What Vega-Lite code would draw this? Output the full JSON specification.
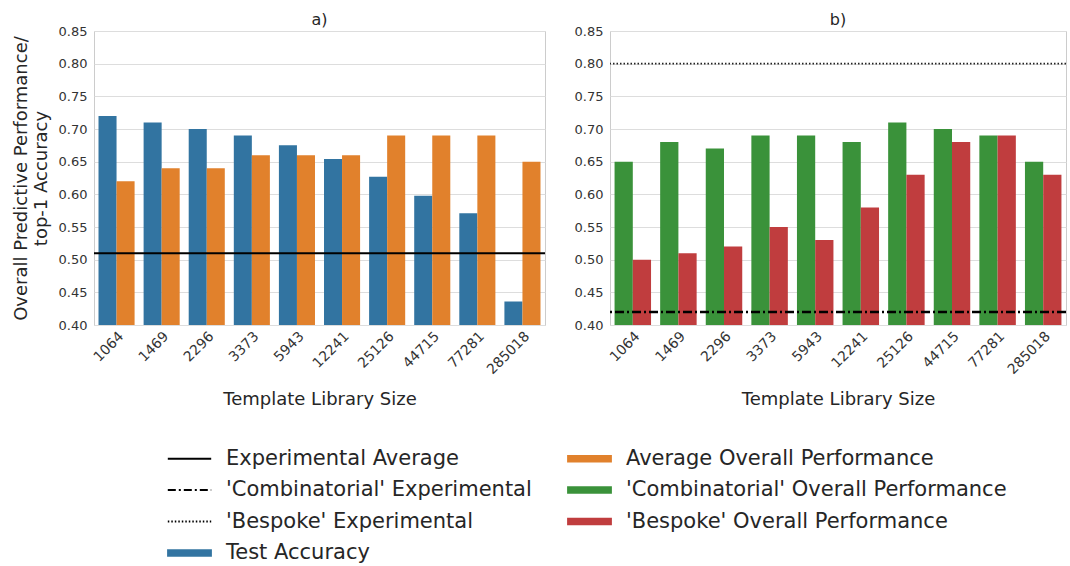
{
  "$schema": "https://vega.github.io/schema/vega-lite/v6.json",
  "padding": {"left": 11, "top": 11, "right": 2, "bottom": 2},
  "background": "white",
  "config": {
    "font": "DejaVu Sans",
    "view": {"stroke": "#cccccc", "strokeWidth": 1},
    "axis": {
      "labelFont": "DejaVu Sans", "titleFont": "DejaVu Sans",
      "labelColor": "#333333", "titleColor": "#262626",
      "gridColor": "#dddddd", "gridWidth": 1,
      "domain": false, "ticks": false,
      "labelFontSize": 13, "titleFontSize": 18, "titleFontWeight": "normal"
    },
    "title": {"fontSize": 16, "fontWeight": "normal", "font": "DejaVu Sans", "color": "#262626", "offset": -3}
  },
  "datasets": {
    "barsA": [
      {"size": "1064", "series": "Test Accuracy", "value": 0.72},
      {"size": "1064", "series": "Average Overall Performance", "value": 0.62},
      {"size": "1469", "series": "Test Accuracy", "value": 0.71},
      {"size": "1469", "series": "Average Overall Performance", "value": 0.64},
      {"size": "2296", "series": "Test Accuracy", "value": 0.70},
      {"size": "2296", "series": "Average Overall Performance", "value": 0.64},
      {"size": "3373", "series": "Test Accuracy", "value": 0.69},
      {"size": "3373", "series": "Average Overall Performance", "value": 0.66},
      {"size": "5943", "series": "Test Accuracy", "value": 0.675},
      {"size": "5943", "series": "Average Overall Performance", "value": 0.66},
      {"size": "12241", "series": "Test Accuracy", "value": 0.654},
      {"size": "12241", "series": "Average Overall Performance", "value": 0.66},
      {"size": "25126", "series": "Test Accuracy", "value": 0.627},
      {"size": "25126", "series": "Average Overall Performance", "value": 0.69},
      {"size": "44715", "series": "Test Accuracy", "value": 0.598},
      {"size": "44715", "series": "Average Overall Performance", "value": 0.69},
      {"size": "77281", "series": "Test Accuracy", "value": 0.571},
      {"size": "77281", "series": "Average Overall Performance", "value": 0.69},
      {"size": "285018", "series": "Test Accuracy", "value": 0.436},
      {"size": "285018", "series": "Average Overall Performance", "value": 0.65}
    ],
    "barsB": [
      {"size": "1064", "series": "'Combinatorial' Overall Performance", "value": 0.65},
      {"size": "1064", "series": "'Bespoke' Overall Performance", "value": 0.50},
      {"size": "1469", "series": "'Combinatorial' Overall Performance", "value": 0.68},
      {"size": "1469", "series": "'Bespoke' Overall Performance", "value": 0.51},
      {"size": "2296", "series": "'Combinatorial' Overall Performance", "value": 0.67},
      {"size": "2296", "series": "'Bespoke' Overall Performance", "value": 0.52},
      {"size": "3373", "series": "'Combinatorial' Overall Performance", "value": 0.69},
      {"size": "3373", "series": "'Bespoke' Overall Performance", "value": 0.55},
      {"size": "5943", "series": "'Combinatorial' Overall Performance", "value": 0.69},
      {"size": "5943", "series": "'Bespoke' Overall Performance", "value": 0.53},
      {"size": "12241", "series": "'Combinatorial' Overall Performance", "value": 0.68},
      {"size": "12241", "series": "'Bespoke' Overall Performance", "value": 0.58},
      {"size": "25126", "series": "'Combinatorial' Overall Performance", "value": 0.71},
      {"size": "25126", "series": "'Bespoke' Overall Performance", "value": 0.63},
      {"size": "44715", "series": "'Combinatorial' Overall Performance", "value": 0.70},
      {"size": "44715", "series": "'Bespoke' Overall Performance", "value": 0.68},
      {"size": "77281", "series": "'Combinatorial' Overall Performance", "value": 0.69},
      {"size": "77281", "series": "'Bespoke' Overall Performance", "value": 0.69},
      {"size": "285018", "series": "'Combinatorial' Overall Performance", "value": 0.65},
      {"size": "285018", "series": "'Bespoke' Overall Performance", "value": 0.63}
    ],
    "avgLine": [{"series": "Experimental Average", "value": 0.51}],
    "bespokeLine": [{"series": "'Bespoke' Experimental", "value": 0.80}],
    "combLine": [{"series": "'Combinatorial' Experimental", "value": 0.42}]
  },
  "resolve": {
    "scale": {"color": "shared", "x": "independent", "xOffset": "independent", "y": "independent"},
    "legend": {"color": "shared"}
  },
  "spacing": 26,
  "hconcat": [
    {
      "title": "a)",
      "width": 451,
      "height": 294,
      "encoding": {
        "y": {
          "field": "value", "type": "quantitative",
          "scale": {"domain": [0.4, 0.85], "nice": false, "zero": false},
          "axis": {
            "title": ["Overall Predictive Performance/", "top-1 Accuracy"],
            "values": [0.4, 0.45, 0.5, 0.55, 0.6, 0.65, 0.7, 0.75, 0.8, 0.85],
            "labelOverlap": false,
            "format": ".2f", "labelPadding": 7, "titlePadding": 8
          }
        }
      },
      "layer": [
        {
          "data": {"name": "barsA"},
          "mark": {"type": "bar", "clip": true},
          "encoding": {
            "x": {
              "field": "size", "type": "nominal",
              "sort": ["1064", "1469", "2296", "3373", "5943", "12241", "25126", "44715", "77281", "285018"],
              "scale": {"paddingInner": 0.2, "paddingOuter": 0.1},
              "axis": {"title": "Template Library Size", "labelAngle": -45, "labelFontSize": 14, "labelPadding": 4, "titlePadding": 14, "grid": false}
            },
            "xOffset": {"field": "series", "type": "nominal", "sort": ["Test Accuracy", "Average Overall Performance"], "scale": {"paddingInner": 0, "paddingOuter": 0}},
            "color": {
              "field": "series", "type": "nominal",
              "scale": {
                "domain": ["Experimental Average", "'Combinatorial' Experimental", "'Bespoke' Experimental", "Test Accuracy", "Average Overall Performance", "'Combinatorial' Overall Performance", "'Bespoke' Overall Performance"],
                "range": ["#000000", "#000000", "#000000", "#3274a1", "#e1812c", "#3a923a", "#c03d3e"]
              },
              "legend": {
                "title": null,
                "orient": "none",
                "legendX": 69,
                "legendY": 417,
                "columns": 2,
                "symbolSize": 196,
                "labelFontSize": 21,
                "labelFont": "DejaVu Sans",
                "labelColor": "#262626",
                "labelLimit": 500,
                "labelOffset": 26,
                "symbolOffset": 16,
                "rowPadding": 9.5,
                "columnPadding": 31,
                "encode": {
                  "symbols": {
                    "update": {
                      "shape": {"signal": "(datum.value === 'Experimental Average' || datum.value === \"'Combinatorial' Experimental\" || datum.value === \"'Bespoke' Experimental\") ? 'M-3.1,0H3.1' : 'M-3.2,-0.55H3.2V0.55H-3.2Z'"},
                      "fill": {"signal": "(datum.value === 'Experimental Average' || datum.value === \"'Combinatorial' Experimental\" || datum.value === \"'Bespoke' Experimental\") ? 'transparent' : scale('color', datum.value)"},
                      "stroke": {"signal": "(datum.value === 'Experimental Average' || datum.value === \"'Combinatorial' Experimental\" || datum.value === \"'Bespoke' Experimental\") ? '#000000' : scale('color', datum.value)"},
                      "strokeWidth": {"signal": "(datum.value === 'Experimental Average' || datum.value === \"'Combinatorial' Experimental\" || datum.value === \"'Bespoke' Experimental\") ? 2 : 0"},
                      "strokeDash": {"signal": "datum.value === \"'Combinatorial' Experimental\" ? [8, 3, 2, 3] : (datum.value === \"'Bespoke' Experimental\" ? [1.5, 2] : [1, 0])"},
                      "opacity": {"value": 1}
                    }
                  }
                }
              }
            }
          }
        },
        {
          "data": {"name": "avgLine"},
          "mark": {"type": "rule", "color": "#000000", "strokeWidth": 2},
          "encoding": {}
        }
      ]
    },
    {
      "title": "b)",
      "width": 456,
      "height": 294,
      "encoding": {
        "y": {
          "field": "value", "type": "quantitative",
          "scale": {"domain": [0.4, 0.85], "nice": false, "zero": false},
          "axis": {
            "title": null,
            "values": [0.4, 0.45, 0.5, 0.55, 0.6, 0.65, 0.7, 0.75, 0.8, 0.85],
            "labelOverlap": false,
            "format": ".2f", "labelPadding": 7
          }
        }
      },
      "layer": [
        {
          "data": {"name": "barsB"},
          "mark": {"type": "bar", "clip": true},
          "encoding": {
            "x": {
              "field": "size", "type": "nominal",
              "sort": ["1064", "1469", "2296", "3373", "5943", "12241", "25126", "44715", "77281", "285018"],
              "scale": {"paddingInner": 0.2, "paddingOuter": 0.1},
              "axis": {"title": "Template Library Size", "labelAngle": -45, "labelFontSize": 14, "labelPadding": 4, "titlePadding": 14, "grid": false}
            },
            "xOffset": {"field": "series", "type": "nominal", "sort": ["'Combinatorial' Overall Performance", "'Bespoke' Overall Performance"], "scale": {"paddingInner": 0, "paddingOuter": 0}},
            "color": {"field": "series", "type": "nominal"}
          }
        },
        {
          "data": {"name": "bespokeLine"},
          "mark": {"type": "rule", "color": "#222222", "strokeWidth": 1.6, "strokeDash": [1.5, 2]},
          "encoding": {}
        },
        {
          "data": {"name": "combLine"},
          "mark": {"type": "rule", "color": "#000000", "strokeWidth": 2.5, "strokeDash": [9, 3, 2, 3]},
          "encoding": {}
        }
      ]
    }
  ]
}
